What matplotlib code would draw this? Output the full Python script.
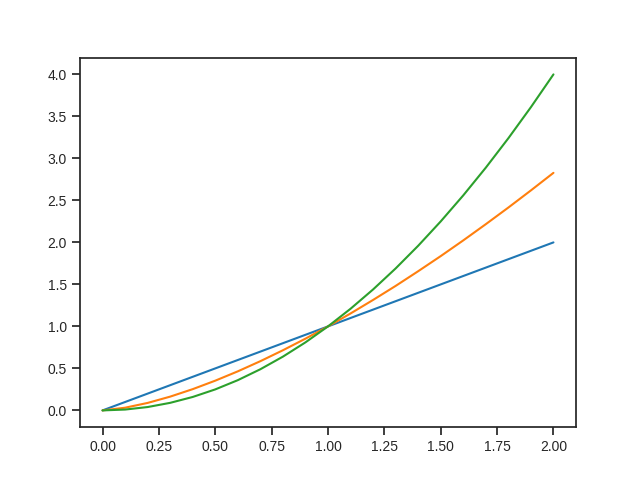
import matplotlib
matplotlib.use("Agg")
import matplotlib.pyplot as plt
import seaborn as sns

x = [0.0, 0.1, 0.2, 0.3, 0.4, 0.5, 0.6, 0.7, 0.8, 0.9, 1.0,
     1.1, 1.2, 1.3, 1.4, 1.5, 1.6, 1.7, 1.8, 1.9, 2.0]
linear = [0.0, 0.1, 0.2, 0.3, 0.4, 0.5, 0.6, 0.7, 0.8, 0.9, 1.0,
          1.1, 1.2, 1.3, 1.4, 1.5, 1.6, 1.7, 1.8, 1.9, 2.0]
middle = [0.0, 0.032, 0.089, 0.164, 0.253, 0.354, 0.465, 0.586, 0.716, 0.854, 1.0,
          1.154, 1.315, 1.482, 1.657, 1.837, 2.024, 2.217, 2.415, 2.619, 2.828]
square = [0.0, 0.01, 0.04, 0.09, 0.16, 0.25, 0.36, 0.49, 0.64, 0.81, 1.0,
          1.21, 1.44, 1.69, 1.96, 2.25, 2.56, 2.89, 3.24, 3.61, 4.0]

sns.set_style("ticks")
plt.rcParams['font.family'] = ['Liberation Sans', 'DejaVu Sans']
plt.rcParams['axes.linewidth'] = 1.25
plt.rcParams['xtick.major.width'] = 1.25
plt.rcParams['ytick.major.width'] = 1.25
plt.rcParams['xtick.major.size'] = 6
plt.rcParams['ytick.major.size'] = 6

fig, ax = plt.subplots(figsize=(6.4, 4.8), dpi=100)
ax.plot(x, linear, color='#1f77b4')
ax.plot(x, middle, color='#ff7f0e')
ax.plot(x, square, color='#2ca02c')

fig.savefig("out.png")
